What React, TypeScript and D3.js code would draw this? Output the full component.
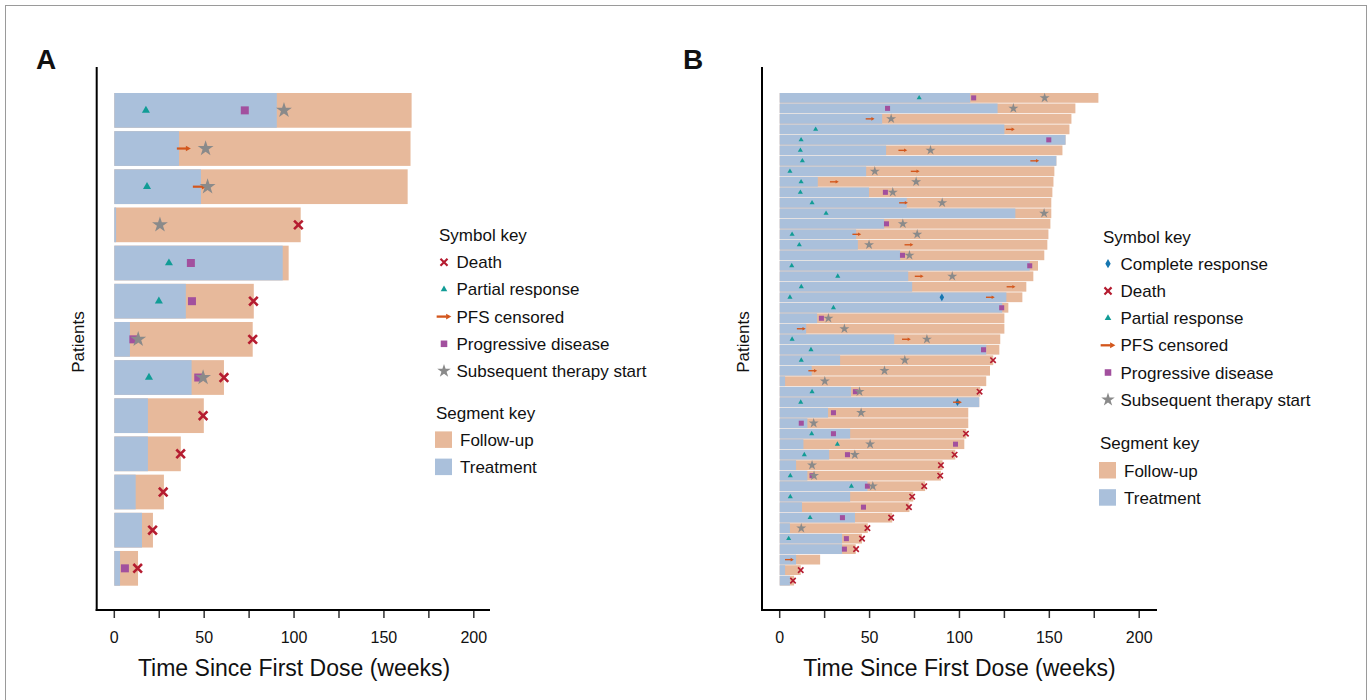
import React from "react";
import * as d3 from "d3";

// ---- panel A (13 patients), weeks ----
const aTreatment = [90.4, 36, 48.2, 1, 93.7, 39.8, 8.7, 43, 18.7, 18.7, 11.9, 15.4, 3.2];
const aTotal = [165.4, 164.8, 163.2, 103.7, 97, 77.6, 77, 61, 49.8, 37, 27.6, 21.5, 13.2];
const aDeath = [[3, 102.4], [5, 77.4], [6, 77], [7, 61], [8, 49.4], [9, 36.9], [10, 27.2], [11, 21.3], [12, 13]];
const aPR = [[0, 17.6], [2, 18.2], [4, 30.4], [5, 24.8], [7, 19.3]];
const aPFS = [[1, 38.7], [2, 47.6]];
const aPD = [[0, 72.6], [4, 42.6], [5, 43.2], [6, 10.6], [7, 46.7], [12, 5.9]];
const aStar = [[0, 94.4], [1, 50.8], [2, 51.9], [3, 25.4], [6, 13.3], [7, 49.4]];

// ---- panel B (47 patients), weeks ----
const bTreatment = [106, 121.2, 57, 125, 159, 59.2, 153.9, 48.1, 21.2, 49.7, 70.7, 131.1, 58.1, 42.5, 43.5, 67,
  139.1, 71.5, 73.7, 126.1, 123.8, 20.8, 14.7, 63.7, 114.9, 33.6, 17.8, 3, 39.7, 111, 26.9, 15.4, 39.2, 13.2,
  27.5, 9.1, 15.4, 48.8, 39.2, 12.4, 41.9, 5.7, 34.7, 34.7, 9.1, 3, 5.7];
const bTotal = [177.3, 164.5, 162.3, 161.2, 159, 157.3, 153.9, 152.8, 152.3, 151.7, 151.1, 151.1, 150.6, 149.5,
  148.9, 147.2, 143.7, 141.1, 137.2, 135, 127.2, 125, 125, 122.7, 122.2, 118.8, 117, 114.9, 111.6, 111, 104.9,
  104.9, 103.8, 102.7, 97.7, 90.6, 89.7, 80.9, 74.3, 72.2, 62.6, 49, 45.8, 42.3, 22.5, 11.7, 8];
const bCR = [[19, 90.2], [29, 98.9]];
const bDeath = [[25, 118.7], [28, 111.2], [32, 103.6], [34, 97.3], [35, 89.7], [36, 89.3], [37, 80.4], [38, 73.7],
  [39, 71.9], [40, 62], [41, 48.8], [42, 45.8], [43, 42.5], [45, 11.7], [46, 7.4]];
const bPR = [[0, 77.6], [3, 20], [4, 11.9], [5, 11.5], [6, 12.6], [7, 5.7], [8, 11.9], [9, 11.5], [10, 18], [11, 25.8],
  [13, 6.9], [14, 10.9], [16, 6.7], [17, 32.3], [18, 12], [19, 5.7], [20, 29.9], [23, 6.9], [24, 17.4], [25, 12],
  [28, 18], [29, 11.7], [32, 17.8], [33, 32.1], [34, 13.7], [36, 5.9], [37, 39.9], [38, 5.9], [40, 16.9], [42, 5]];
const bPFS = [[2, 50.3], [3, 128.3], [5, 68.5], [6, 141.9], [7, 75.4], [8, 30.4], [10, 68.9], [13, 42.9], [14, 71.9],
  [17, 77.6], [18, 128.7], [19, 117.2], [22, 12], [23, 70.5], [26, 18.4], [29, 98.9], [44, 5.4]];
const bPD = [[0, 107.9], [1, 60], [4, 149.7], [9, 58.8], [12, 59.4], [15, 68.3], [16, 139.1], [20, 123.5], [21, 23.2],
  [24, 113.4], [28, 42.1], [30, 29.9], [31, 12], [32, 29.9], [33, 97.8], [34, 37.7], [36, 18], [37, 48.8], [39, 46.6],
  [40, 34.9], [42, 37.1], [43, 36]];
const bStar = [[0, 147.4], [1, 130], [2, 62], [5, 83.9], [7, 52.9], [8, 75.9], [9, 62.9], [10, 90.4], [11, 147.1],
  [12, 68.5], [13, 76.5], [14, 49.7], [15, 72.2], [17, 96], [21, 27.1], [22, 36], [23, 81.9], [25, 69.6], [26, 58.3],
  [27, 25.1], [28, 44.4], [30, 45.3], [31, 18.9], [33, 50.3], [34, 41.8], [35, 18], [36, 19.1], [37, 51.8], [41, 12]];

const tickLabels = [0, 50, 100, 150, 200];
const tickMarks = [0, 25, 50, 75, 100, 125, 150, 175, 200];
const legendA = ["Death", "Partial response", "PFS censored", "Progressive disease", "Subsequent therapy start"];
const legendB = ["Complete response", "Death", "Partial response", "PFS censored", "Progressive disease", "Subsequent therapy start"];
const segmentKeys = ["Follow-up", "Treatment"];

const C = {
  treat: "#aac0db",
  follow: "#e7b99b",
  death: "#b51c30",
  pr: "#119c96",
  pfs: "#d3561c",
  pd: "#a2509e",
  star: "#8a8a8a",
  cr: "#1676b0",
};
const FONT = "'Liberation Sans', Arial, Helvetica, sans-serif";

const sym = (type: any, size: number) => d3.symbol().type(type).size(size)() as string;
const xPath = (h: number) => `M${-h},${-h}L${h},${h}M${-h},${h}L${h},${-h}`;

function Marker({ kind, x, y, s }: { kind: string; x: number; y: number; s: number }) {
  // s = scale factor (1 for panel A, ~0.63 for panel B)
  const t = `translate(${x},${y})`;
  if (kind === "death")
    return <path transform={t} d={xPath(4.3 * s)} stroke={C.death} strokeWidth={2.6 * s} fill="none" />;
  if (kind === "pr")
    return <path transform={t} d={sym(d3.symbolTriangle, 28 * s * s)} fill={C.pr} />;
  if (kind === "pd")
    return <path transform={t} d={sym(d3.symbolSquare, 64 * s * s)} fill={C.pd} />;
  if (kind === "star")
    return <path transform={t} d={sym(d3.symbolStar, 78 * s * s)} fill={C.star} />;
  if (kind === "cr")
    return <path transform={t} d={sym(d3.symbolDiamond, 44 * s * s)} fill={C.cr} />;
  // PFS censored arrow, centred on x
  const L = 14 * s, hl = 5 * s, hw = 2.8 * s;
  return (
    <g transform={t}>
      <line x1={-L / 2} x2={L / 2 - hl + 0.5} y1={0} y2={0} stroke={C.pfs} strokeWidth={2.2 * s} />
      <path d={`M${L / 2},0L${L / 2 - hl},${-hw}L${L / 2 - hl},${hw}Z`} fill={C.pfs} />
    </g>
  );
}

type Panel = {
  x0: number;
  axisX: number;
  axisEnd: number;
  treat: number[];
  total: number[];
  events: [string, number[][]][];
  s: number;
  pad: number;
  bandTop: number;
  bandBottom: number;
};

function Swimmer({ p }: { p: Panel }) {
  const x = d3.scaleLinear().domain([0, 200]).range([p.x0, p.x0 + 359.5]);
  const y = d3.scaleBand<number>()
    .domain(d3.range(p.total.length))
    .range([p.bandTop, p.bandBottom])
    .paddingInner(p.pad)
    .paddingOuter(0);
  const bw = y.bandwidth();
  const axisY = 610;
  return (
    <g>
      {p.total.map((v, i) => (
        <rect key={"f" + i} x={x(0)} y={y(i)} width={x(v) - x(0)} height={bw} fill={C.follow} />
      ))}
      {p.treat.map((v, i) => (
        <rect key={"t" + i} x={x(0)} y={y(i)} width={x(v) - x(0)} height={bw} fill={C.treat} />
      ))}
      {p.events.map(([kind, arr]) =>
        arr.map(([r, w], j) => (
          <Marker key={kind + j} kind={kind} x={x(w)} y={(y(r) as number) + bw / 2} s={p.s} />
        ))
      )}
      <line x1={p.axisX} x2={p.axisX} y1={67} y2={axisY + 1} stroke="#000" strokeWidth={2} />
      <line x1={p.axisX - 1} x2={p.axisEnd} y1={axisY} y2={axisY} stroke="#000" strokeWidth={2} />
      {tickMarks.map((t) => (
        <line key={"tk" + t} x1={x(t)} x2={x(t)} y1={axisY + 1} y2={axisY + 8} stroke="#333" strokeWidth={1.5} />
      ))}
      {tickLabels.map((t) => (
        <text key={"tl" + t} x={x(t)} y={643} textAnchor="middle" fontSize={16} fontFamily={FONT} fill="#111">
          {t}
        </text>
      ))}
      <text x={x(100)} y={676} textAnchor="middle" fontSize={23} fontFamily={FONT} fill="#111">
        Time Since First Dose (weeks)
      </text>
      <text
        transform={`translate(${p.axisX - 13},342) rotate(-90)`}
        textAnchor="middle"
        fontSize={17}
        fontFamily={FONT}
        fill="#111"
      >
        Patients
      </text>
    </g>
  );
}

function Legend({ x, y0, items, kinds, segY }: { x: number; y0: number; items: string[]; kinds: string[]; segY: number }) {
  return (
    <g fontFamily={FONT} fontSize={17} fill="#111">
      <text x={x} y={y0 + 6}>Symbol key</text>
      {items.map((t, i) => {
        const cy = y0 + 27.2 * (i + 1);
        const k = kinds[i];
        return (
          <g key={t}>
            <Marker kind={k} x={x + 5} y={cy} s={k === "pfs" ? 1.05 : k === "star" ? 0.85 : k === "cr" ? 0.75 : 0.82} />
            <text x={x + 17.5} y={cy + 6}>{t}</text>
          </g>
        );
      })}
      <text x={x - 3} y={segY + 6}>Segment key</text>
      {segmentKeys.map((t, i) => {
        const cy = segY + 27.2 * (i + 1);
        return (
          <g key={t}>
            <rect x={x - 4} y={cy - 8.5} width={17} height={16.5} fill={i === 0 ? C.follow : C.treat} />
            <text x={x + 21} y={cy + 6}>{t}</text>
          </g>
        );
      })}
    </g>
  );
}

export default function App() {
  const panelA: Panel = {
    x0: 114.3,
    axisX: 96.7,
    axisEnd: 490,
    treat: aTreatment,
    total: aTotal,
    events: [["pr", aPR], ["pd", aPD], ["pfs", aPFS], ["star", aStar], ["death", aDeath]],
    s: 1,
    pad: 0.09,
    bandTop: 93,
    bandBottom: 585.7,
  };
  const panelB: Panel = {
    x0: 779.7,
    axisX: 762,
    axisEnd: 1157,
    treat: bTreatment,
    total: bTotal,
    events: [["pr", bPR], ["pd", bPD], ["cr", bCR], ["pfs", bPFS], ["star", bStar], ["death", bDeath]],
    s: 0.63,
    pad: 0.07,
    bandTop: 93,
    bandBottom: 585.5,
  };
  return (
    <svg
      width={1372}
      height={700}
      style={{ position: "absolute", left: 0, top: 0, background: "#fff" }}
    >
      <rect x={5.5} y={5.5} width={1361} height={720} fill="#fff" stroke="#9a9a9a" strokeWidth={1} />
      <text x={36} y={69} fontSize={28} fontWeight="bold" fontFamily={FONT} fill="#111">A</text>
      <text x={683} y={69} fontSize={28} fontWeight="bold" fontFamily={FONT} fill="#111">B</text>
      <Swimmer p={panelA} />
      <Swimmer p={panelB} />
      <Legend x={439} y0={235} items={legendA} kinds={["death", "pr", "pfs", "pd", "star"]} segY={412.7} />
      <Legend x={1103} y0={236.5} items={legendB} kinds={["cr", "death", "pr", "pfs", "pd", "star"]} segY={443.3} />
    </svg>
  );
}
